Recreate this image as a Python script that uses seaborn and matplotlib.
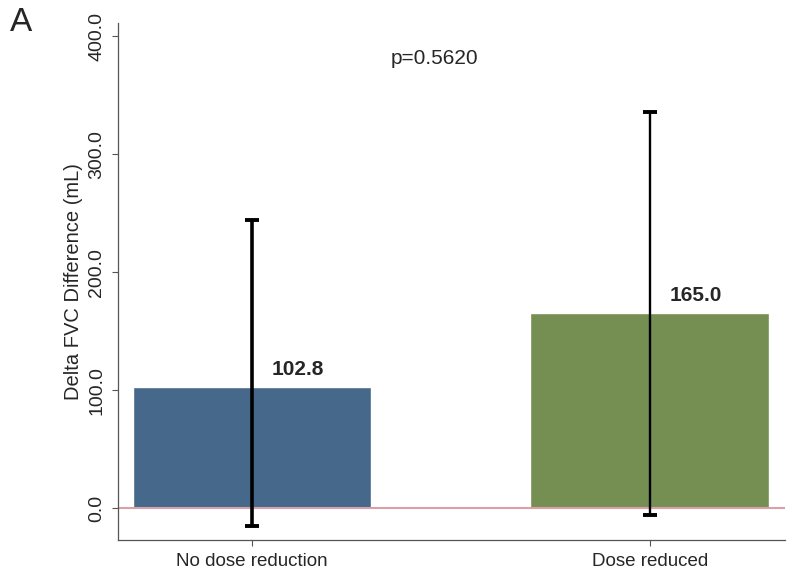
import matplotlib
matplotlib.use("Agg")
import matplotlib.pyplot as plt
import seaborn as sns
import numpy as np
import pandas as pd

# Values
groups = ["No dose reduction", "Dose reduced"]
means = [102.8, 165.0]
ci_low = [-15.0, -6.0]
ci_high = [244.0, 336.0]
bar_colors = ["#46688A", "#758F52"]
p_text = "p=0.5620"

sns.set_style("white")
plt.rcParams["font.family"] = ["Liberation Sans", "DejaVu Sans"]

df = pd.DataFrame({"group": groups, "mean": means})

fig = plt.figure(figsize=(7.94, 5.84), dpi=100)
ax = fig.add_axes([0.1486, 0.0753, 0.84, 0.885])

sns.barplot(data=df, x="group", y="mean", hue="group", palette=bar_colors,
            width=0.6, errorbar=None, legend=False, saturation=1, ax=ax)

# Asymmetric confidence intervals (first one drawn heavier, as in the original)
line_w = [2.6, 1.7]
for i, (m, lo, hi) in enumerate(zip(means, ci_low, ci_high)):
    ax.errorbar([i], [m], yerr=[[m - lo], [hi - m]], fmt="none",
                ecolor="black", elinewidth=line_w[i], capsize=5,
                capthick=2.8, zorder=5)

ax.axhline(0, color="#D9A0A8", lw=1.5, zorder=1)

for i, m in enumerate(means):
    ax.text(i + 0.05, m + 7, f"{m:.1f}", fontsize=15, fontweight="bold",
            ha="left", va="bottom")

ax.text(0.46, 381, p_text, fontsize=15, ha="center", va="center")

ax.set_xlim(-0.337, 1.34)
ax.set_ylim(-27, 411)
ax.set_yticks([0, 100, 200, 300, 400])
ax.set_yticklabels([f"{v:.1f}" for v in [0, 100, 200, 300, 400]],
                   rotation=90, va="center", fontsize=14)
ax.tick_params(axis="x", labelsize=13.5)
ax.tick_params(axis="both", length=4, width=0.8, color="#555555", direction="out",
               left=True, bottom=True, pad=5)
ax.set_xlabel("")
ax.set_ylabel("Delta FVC Difference (mL)", fontsize=14.5, labelpad=4)

sns.despine(ax=ax)
for s in ["left", "bottom"]:
    ax.spines[s].set_color("#555555")
    ax.spines[s].set_linewidth(0.9)

fig.text(0.012, 0.962, "A", fontsize=24, ha="left", va="center")

fig.savefig("out.png", dpi=100)
